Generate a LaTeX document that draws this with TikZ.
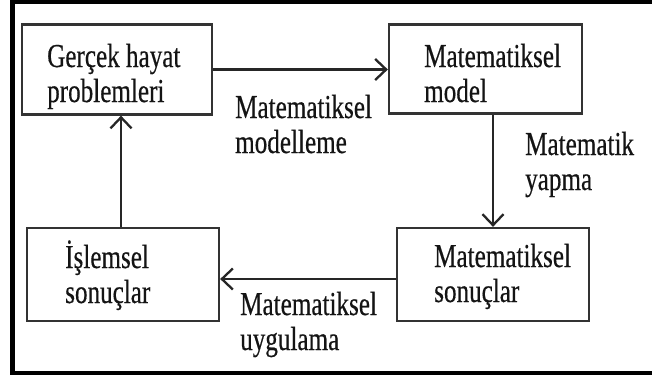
\documentclass[tikz,border=0pt]{standalone}
\usepackage{fontspec}
\setmainfont{Liberation Serif}[FakeStretch=0.75,FakeBold=0.4]
\usetikzlibrary{arrows.meta}
\begin{document}
\begin{tikzpicture}[x=1pt,y=-1pt,
  box/.style={draw=black!80, line width=2.3pt, rectangle, inner sep=0pt},
  txt/.style={anchor=base west, inner sep=0pt, font=\fontsize{33.5}{35}\selectfont, text=black!92},
  arr/.style={draw=black!85, line width=2.3pt, -{Straight Barb[length=11pt,width=21pt]}}]
\useasboundingbox (0,0) rectangle (652,378);
\fill[white] (0,0) rectangle (652,378);
\clip (0,0) rectangle (652,378);
% outer frame (right side lies beyond the picture)
\draw[line width=4.8pt, line join=miter] (662,2) -- (12.5,2) -- (12.5,373) -- (662,373);
% boxes
\node[box, minimum width=190pt, minimum height=90pt] (b1) at (117,69.5) {};
\node[box, minimum width=193pt, minimum height=89pt] (b2) at (485.5,69) {};
\node[box, minimum width=192pt, minimum height=93pt] (b3) at (123,274.5) {};
\node[box, minimum width=192pt, minimum height=93pt] (b4) at (493,274.5) {};
% box texts
\node[txt] (t1) at (47,67) {\parbox[t]{160pt}{\raggedright Gerçek hayat\\problemleri}};
\node[txt] (t2) at (424,67) {\parbox[t]{160pt}{\raggedright Matematiksel\\model}};
\node[txt] (t3) at (65,268) {\parbox[t]{160pt}{\raggedright İşlemsel\\sonuçlar}};
\node[txt] (t4) at (434,267) {\parbox[t]{160pt}{\raggedright Matematiksel\\sonuçlar}};
% connector labels
\node[txt] (l1) at (235,118) {\parbox[t]{160pt}{\raggedright Matematiksel\\modelleme}};
\node[txt] (l2) at (525,155) {\parbox[t]{160pt}{\raggedright Matematik\\yapma}};
\node[txt] (l3) at (240,315) {\parbox[t]{160pt}{\raggedright Matematiksel\\uygulama}};
% connectors
\draw[arr] (b1.east) -- (b1.east -| b2.west);
\draw[arr] (b2.south -| b4.north) -- (b4.north);
\draw[arr] ([yshift=-4.5pt]b4.west) -- ([yshift=-4.5pt]b4.west -| b3.east);
\draw[arr] ([xshift=-2pt]b3.north) -- ([xshift=-2pt]b3.north |- b1.south);
\end{tikzpicture}
\end{document}
